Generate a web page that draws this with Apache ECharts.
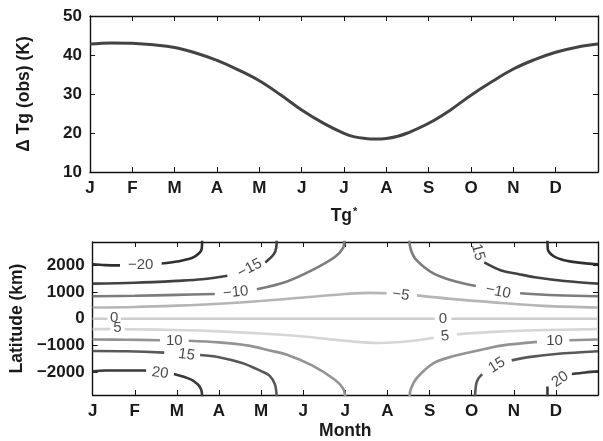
<!DOCTYPE html>
<html>
<head>
<meta charset="utf-8">
<script src="https://cdn.jsdelivr.net/npm/echarts@6/dist/echarts.min.js"></script>
<style>
html,body{margin:0;padding:0;background:#fff;}
#chart{width:603px;height:441px;}
</style>
</head>
<body>
<div id="chart"></div>
<script>
// ---------------- data ----------------
const monthLabels = ['J','F','M','A','M','J','J','A','S','O','N','D'];
const yTicksTop = [10,20,30,40,50];
const latTicks = [-2000,-1000,0,1000,2000];

// top panel: Delta Tg (obs) in K (0 = 1 Jan, 12 = end of Dec)
const tgMonths = [0,0.5,1,1.5,2,2.5,3,3.5,4,4.5,5,5.5,6,6.25,6.5,6.75,7,7.25,7.5,8,8.5,9,9.5,10,10.5,11,11.5,12];
const tgValues = [42.8,43.1,43.0,42.6,41.9,40.5,38.6,36.2,33.4,29.8,25.9,22.6,19.9,19.0,18.6,18.45,18.6,19.1,20.0,22.5,25.8,29.7,33.2,36.4,38.8,40.7,42.0,42.8];

// bottom panel: contour lines, [month, latitude km], split where labels sit
const contourM20 = [
  [[0,2030],[0.3,2000],[0.65,1990]],
  [[1.64,2060],[2.0,2130],[2.37,2270],[2.52,2430],[2.59,2600],[2.6,2950]],
  [[10.8,2950],[10.81,2580],[10.95,2330],[11.2,2180],[11.5,2100],[12,2030]]
];
const contourM15 = [
  [[0,1310],[1,1340],[2,1410],[2.6,1470],[3.2,1600]],
  [[4.1,2100],[4.3,2400],[4.36,2650],[4.37,2950]],
  [[9.3,2100],[9.7,1800],[10.1,1670],[10.5,1550],[11.2,1410],[12,1310]]
];
const contourM10 = [
  [[0,840],[1,855],[2,890],[2.9,925]],
  [[3.9,1100],[4.6,1380],[5.2,1800],[5.75,2300],[5.95,2650],[5.98,2950]],
  [[7.52,2950],[7.55,2600],[7.68,2200],[8.1,1680],[8.6,1400],[9.1,1220]],
  [[10.15,950],[11,875],[12,840]]
];
const contourM5 = [
  [[0,420],[1,440],[2,490],[3,560],[4,660],[5,790],[6,920],[6.6,965],[6.98,950]],
  [[7.7,870],[8.5,740],[9.7,590],[10.7,480],[12,420]]
];
const contour0 = [
  [[0,0],[0.35,0]],
  [[0.67,0],[8.12,0]],
  [[8.52,0],[12,0]]
];
const contourP5 = [
  [[0,-385],[0.42,-385]],
  [[0.76,-390],[2,-420],[3,-470],[4,-550],[5,-660],[6,-820],[6.8,-900],[7.5,-840],[8.1,-710]],
  [[8.65,-580],[9.5,-490],[10.5,-430],[12,-385]]
];
const contourP10 = [
  [[0,-770],[0.8,-780],[1.6,-800]],
  [[2.28,-820],[3,-880],[3.7,-1000],[4.2,-1180],[4.6,-1330],[5.2,-1730],[5.75,-2270],[5.95,-2600],[6.0,-2950]],
  [[7.52,-2950],[7.56,-2600],[7.7,-2200],[8.1,-1650],[8.6,-1380],[9.1,-1200],[9.7,-1000],[10.55,-860]],
  [[11.32,-800],[12,-770]]
];
const contourP15 = [
  [[0,-1200],[0.8,-1210],[1.7,-1260]],
  [[2.55,-1350],[3.0,-1430],[3.55,-1650],[4.0,-1950],[4.2,-2120],[4.33,-2450],[4.37,-2950]],
  [[9.08,-2950],[9.1,-2500],[9.15,-2250],[9.25,-2060]],
  [[9.95,-1550],[10.4,-1420],[11.0,-1310],[12,-1210]]
];
const contourP20 = [
  [[0,-1960],[0.3,-1930],[1.27,-1925]],
  [[1.93,-2060],[2.33,-2260],[2.5,-2450],[2.58,-2650],[2.6,-2950]],
  [[10.8,-2950],[10.8,-2520]],
  [[11.38,-2060],[11.7,-2000],[12,-1960]]
];

// contour labels: [month, latitude, text]
const contourLabels = [
  [1.14,1990,'\u221220'],
  [3.73,1880,'\u221215'],
  [3.40,985,'\u221210'],
  [0.51,20,'0'],
  [0.59,-335,'5'],
  [1.94,-815,'10'],
  [2.23,-1340,'15'],
  [1.60,-2020,'20'],
  [7.32,890,'\u22125'],
  [8.32,0,'0'],
  [8.37,-650,'5'],
  [9.63,1010,'\u221210'],
  [9.15,2480,'15'],
  [9.60,-1730,'15'],
  [10.97,-840,'10'],
  [11.10,-2260,'20']
];

// ---------------- style ----------------
const labelAngles = [0,28,6,0,0,0,-8,-8,-8,0,5,-12,-75,32,0,35];
const levelStyles = [
  {segs:contourM20, color:'#2f2f2f'},
  {segs:contourM15, color:'#414141'},
  {segs:contourM10, color:'#7c7c7c'},
  {segs:contourM5,  color:'#b5b5b5'},
  {segs:contour0,   color:'#cdcdcd'},
  {segs:contourP5,  color:'#d6d6d6'},
  {segs:contourP10, color:'#939393'},
  {segs:contourP15, color:'#585858'},
  {segs:contourP20, color:'#3a3a3a'}
];
const FONT = '"Liberation Sans", Arial, Helvetica, sans-serif';
const axisCol = '#111';
const tickLabel = {fontFamily:FONT, fontWeight:'bold', fontSize:17, color:'#1a1a1a'};
const nameStyle = {fontFamily:FONT, fontWeight:'bold', fontSize:17.5, color:'#1a1a1a'};

function xAx(grid, pos, withLabels, name, gap, nameTS) {
  return {
    gridIndex:grid, type:'value', min:0, max:12, interval:1, position:pos,
    axisLine:{show:true, onZero:false, lineStyle:{color:axisCol, width:1.4}},
    axisTick:{show:true, inside:true, length:5, lineStyle:{color:axisCol, width:1}},
    axisLabel: withLabels ? Object.assign({show:true, margin:8, formatter:(v)=> (v>=0 && v<12 && Number.isInteger(v)) ? monthLabels[v] : ''}, tickLabel) : {show:false},
    splitLine:{show:false},
    name: name || '', nameLocation:'middle', nameGap: gap || 0, nameTextStyle: nameTS || nameStyle
  };
}

const chart = echarts.init(document.getElementById('chart'), null, {renderer:'canvas'});

const series = [];
series.push({
  type:'line', xAxisIndex:0, yAxisIndex:0,
  data: tgMonths.map((m,i)=>[m, tgValues[i]]),
  smooth:0.4, showSymbol:false, symbol:'none',
  lineStyle:{color:'#434343', width:3}
});
levelStyles.forEach(lv=>{
  lv.segs.forEach(seg=>{
    series.push({
      type:'line', xAxisIndex:2, yAxisIndex:2, data:seg,
      smooth:0.35, showSymbol:false, symbol:'none', clip:true,
      lineStyle:{color:lv.color, width:2.6}
    });
  });
});
series.push({
  type:'scatter', xAxisIndex:2, yAxisIndex:2, symbolSize:1,
  itemStyle:{color:'rgba(0,0,0,0)'},
  data: contourLabels.map((d,i)=>({value:[d[0],d[1]], name:d[2], label:{rotate:labelAngles[i]}})),
  label:{show:true, position:'inside', formatter:(p)=>p.name, fontFamily:FONT, fontSize:15, color:'#1a1a1a'},
  silent:true
});

const option = {
  animation:false,
  backgroundColor:'#fff',
  grid:[
    {left:90, top:16, width:508, height:156},
    {left:90, top:242, width:508, height:156}
  ],
  xAxis:[
    xAx(0,'bottom',true,'{a|Tg}{s|*}',34, Object.assign({}, nameStyle, {rich:{a:Object.assign({}, nameStyle), s:{fontFamily:FONT, fontWeight:'bold', fontSize:11, color:'#1a1a1a', padding:[0,0,9,1]}}})),
    xAx(0,'top',false),
    xAx(1,'bottom',true,'Month',27),
    xAx(1,'top',false)
  ],
  yAxis:[
    {gridIndex:0, type:'value', min:10, max:50, interval:10, position:'left',
     axisLine:{show:true, onZero:false, lineStyle:{color:axisCol, width:1.4}},
     axisTick:{show:true, inside:true, length:5, lineStyle:{color:axisCol, width:1}},
     axisLabel:Object.assign({margin:8}, tickLabel),
     splitLine:{show:false},
     name:'\u0394 Tg (obs) (K)', nameLocation:'middle', nameGap:57, nameTextStyle:nameStyle},
    {gridIndex:0, type:'value', min:10, max:50, interval:10, position:'right',
     axisLine:{show:true, onZero:false, lineStyle:{color:axisCol, width:1.4}},
     axisTick:{show:true, inside:true, length:5, lineStyle:{color:axisCol, width:1}},
     axisLabel:{show:false}, splitLine:{show:false}},
    {gridIndex:1, type:'value', min:-2840, max:2860, position:'left',
     axisLine:{show:true, onZero:false, lineStyle:{color:axisCol, width:1.4}},
     axisTick:{show:true, inside:true, length:5, customValues:latTicks, lineStyle:{color:axisCol, width:1}},
     axisLabel:Object.assign({margin:8, customValues:latTicks, formatter:(v)=> (v%1000===0) ? String(v).replace('-','\u2212') : ''}, tickLabel),
     splitLine:{show:false},
     name:'Latitude (km)', nameLocation:'middle', nameGap:59, nameTextStyle:nameStyle},
    {gridIndex:1, type:'value', min:-2840, max:2860, position:'right',
     axisLine:{show:true, onZero:false, lineStyle:{color:axisCol, width:1.4}},
     axisTick:{show:true, inside:true, length:5, customValues:latTicks, lineStyle:{color:axisCol, width:1}},
     axisLabel:{show:false}, splitLine:{show:false}}
  ],
  series: series
};
chart.setOption(option);
</script>
</body>
</html>
